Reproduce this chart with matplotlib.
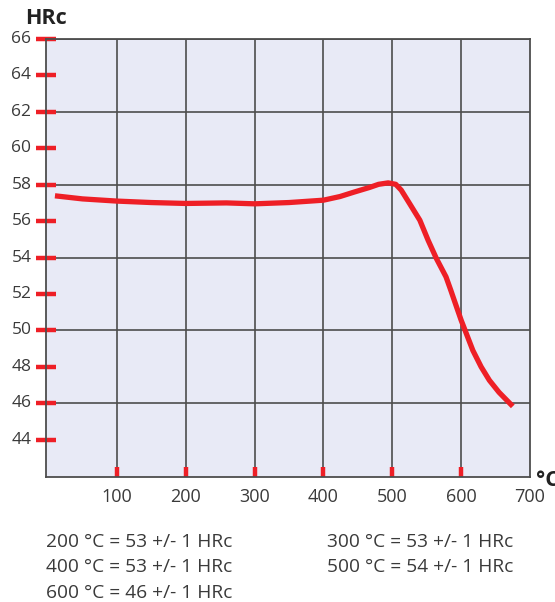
import matplotlib
matplotlib.use('Agg')
import matplotlib.pyplot as plt

# --- DATA ---
temp_c = [10, 50, 100, 150, 200, 259, 300, 350, 400, 424, 445, 467, 480,
          494, 505, 513, 525, 540, 552, 564, 578, 585, 590, 600, 617, 629,
          641, 655, 675]
hrc = [57.39, 57.22, 57.1, 57.02, 56.97, 57.0, 56.95, 57.02, 57.15, 57.35,
       57.6, 57.85, 58.02, 58.1, 58.02, 57.7, 56.97, 56.05, 54.95, 53.95,
       52.94, 52.2, 51.65, 50.56, 48.9, 48.0, 47.26, 46.6, 45.83]

x_ticks = [100, 200, 300, 400, 500, 600]
y_ticks = [44, 46, 48, 50, 52, 54, 56, 58, 60, 62, 64, 66]
y_grid = [46, 50, 54, 58, 62, 66]

notes_left = ["200 °C = 53 +/- 1 HRc", "400 °C = 53 +/- 1 HRc", "600 °C = 46 +/- 1 HRc"]
notes_right = ["300 °C = 53 +/- 1 HRc", "500 °C = 54 +/- 1 HRc"]

RED = '#ee1f26'
GRID = '#4d4d4d'
TXT = '#3a3a3a'
W, H = 555, 602

plt.rcParams['font.family'] = ['Open Sans', 'DejaVu Sans']

fig = plt.figure(figsize=(W / 100, H / 100), dpi=100)
ax = fig.add_axes([46 / W, 1 - 477 / H, (530 - 46) / W, (477 - 39) / H])
ax.set_facecolor('#e8eaf6')

ax.set_xlim(-3, 700)
ax.set_ylim(41.95, 66)

# grid
for gx in x_ticks:
    ax.axvline(gx, color=GRID, lw=1.2, zorder=1)
for gy in y_grid:
    ax.axhline(gy, color=GRID, lw=1.2, zorder=1)

ax.plot(temp_c, hrc, color=RED, lw=3.8, solid_capstyle='butt',
        solid_joinstyle='round', zorder=3)

for s in ax.spines.values():
    s.set_color(GRID)
    s.set_linewidth(1.3)

ax.set_xticks(x_ticks)
ax.set_xticklabels([])
ax.set_yticks(y_ticks)
ax.set_yticklabels([])
ax.tick_params(axis='x', direction='in', length=7, width=3.2, color=RED)
ax.tick_params(axis='y', direction='inout', length=14, width=3.2, color=RED)
for t in ax.yaxis.get_major_ticks() + ax.xaxis.get_major_ticks():
    t.tick1line.set_zorder(5)

# tick labels as text so positions can be matched
for v in y_ticks:
    ax.text(-0.03, v, str(v), transform=ax.get_yaxis_transform(),
            ha='right', va='center', fontsize=12.5, color=TXT)
for v in x_ticks + [700]:
    ax.text(v, -0.026, str(v), transform=ax.get_xaxis_transform(),
            ha='center', va='top', fontsize=13, color=TXT)

fig.text(25 / W, 1 - 24.5 / H, "HRc", fontsize=15.5, fontweight='bold',
         color='#222222', ha='left', va='baseline')
fig.text(536 / W, 1 - 486 / H, "°C", fontsize=15.5, fontweight='bold',
         color='#222222', ha='left', va='baseline')

for i, s in enumerate(notes_left):
    fig.text(46 / W, 1 - (547 + 25.3 * i) / H, s, fontsize=13.8, color=TXT,
             ha='left', va='baseline')
for i, s in enumerate(notes_right):
    fig.text(327 / W, 1 - (547 + 25.3 * i) / H, s, fontsize=13.8, color=TXT,
             ha='left', va='baseline')

fig.savefig('out.png', dpi=100)
